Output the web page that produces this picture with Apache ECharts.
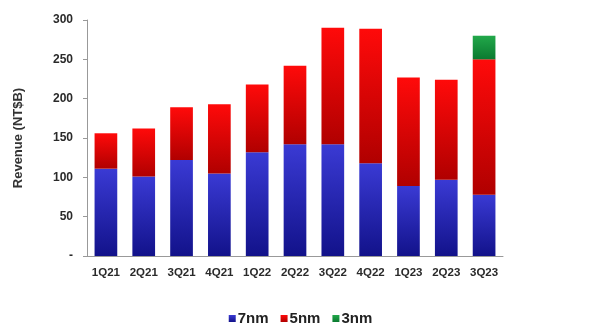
<!DOCTYPE html>
<html>
<head>
<meta charset="utf-8">
<script src="https://cdn.jsdelivr.net/npm/echarts@6/dist/echarts.min.js"></script>
<style>
  html, body { margin: 0; padding: 0; background: #fff; }
  #chart { width: 601px; height: 329px; }
</style>
</head>
<body>
<div id="chart"></div>
<script>
// 季度
var quarters = ['1Q21', '2Q21', '3Q21', '4Q21', '1Q22', '2Q22', '3Q22', '4Q22', '1Q23', '2Q23', '3Q23'];
// 各制程营收 (NT$B)
var rev7nm = [111, 101, 122, 105, 132, 142, 142, 118, 89, 97, 78];
var rev5nm = [45, 61, 67, 88, 86, 100, 148, 171, 138, 127, 172];
var rev3nm = [0, 0, 0, 0, 0, 0, 0, 0, 0, 0, 30];

var myChart = echarts.init(document.getElementById('chart'));

function grad(top, bottom) {
    return new echarts.graphic.LinearGradient(0, 0, 0, 1, [
        { offset: 0, color: top },
        { offset: 1, color: bottom }
    ]);
}

var labelFont = { color: '#2a2a2a', fontWeight: 'bold', fontFamily: 'Liberation Sans, Arial', fontSize: 12 };

var option = {
    animation: false,
    grid: { left: 87, right: 98, top: 20, bottom: 73 },
    legend: {
        top: 311,
        left: 'center',
        padding: 0,
        icon: 'rect',
        itemWidth: 7,
        itemHeight: 7,
        itemGap: 12,
        textStyle: { color: '#222', fontWeight: 'bold', fontFamily: 'Liberation Sans, Arial', fontSize: 15, padding: [0, 0, 0, -3] },
        data: ['7nm', '5nm', '3nm']
    },
    xAxis: {
        type: 'category',
        data: quarters,
        axisLine: { lineStyle: { color: '#999' } },
        axisTick: { lineStyle: { color: '#999' }, length: 4 },
        axisLabel: Object.assign({}, labelFont, { margin: 11, interval: 0, fontSize: 11.5 })
    },
    yAxis: {
        type: 'value',
        min: 0,
        max: 300,
        interval: 50,
        name: 'Revenue (NT$B)',
        nameLocation: 'middle',
        nameGap: 62,
        nameTextStyle: { color: '#333', fontWeight: 'bold', fontFamily: 'Liberation Sans, Arial', fontSize: 13 },
        axisLine: { show: true, lineStyle: { color: '#999' } },
        axisTick: { show: true, lineStyle: { color: '#999' }, length: 4 },
        splitLine: { show: false },
        axisLabel: Object.assign({
            margin: 14,
            formatter: function (v) { return v === 0 ? '-' : v; }
        }, labelFont)
    },
    series: [
        {
            name: '7nm',
            type: 'bar',
            stack: 'rev',
            barWidth: '60%',
            data: rev7nm,
            itemStyle: { color: grad('#3a3ad4', '#12128a') }
        },
        {
            name: '5nm',
            type: 'bar',
            stack: 'rev',
            data: rev5nm,
            itemStyle: { color: grad('#ff0a0a', '#b00000') }
        },
        {
            name: '3nm',
            type: 'bar',
            stack: 'rev',
            data: rev3nm,
            itemStyle: { color: grad('#22a84a', '#0a7a30') }
        }
    ]
};

myChart.setOption(option);
window.addEventListener('resize', function () {
    myChart.resize();
});
</script>
</body>
</html>
